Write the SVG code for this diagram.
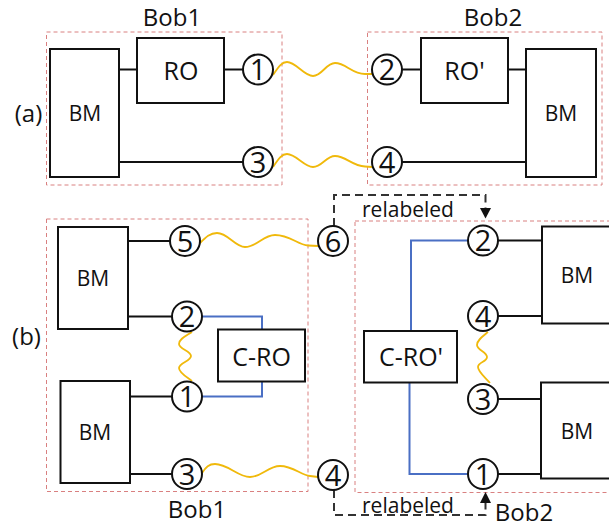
<svg xmlns="http://www.w3.org/2000/svg" width="609" height="527" viewBox="0 0 609 527">
<style>
.box{fill:#fff;stroke:#111;stroke-width:2}
.grp{fill:none;stroke:#d98080;stroke-width:1;stroke-dasharray:4 3}
.port{fill:#fff;stroke:#111;stroke-width:2}
.wire{fill:none;stroke:#111;stroke-width:2}
.blue{fill:none;stroke:#4a6fc4;stroke-width:2}
.wave{fill:none;stroke:#f0b90b;stroke-width:1.8}
.dash{fill:none;stroke:#333;stroke-width:2;stroke-dasharray:8 5}
text{font-family:"Open Sans","Liberation Sans",sans-serif;fill:#111;text-anchor:middle}
.num{font-size:29px}
.bm{font-size:21px}
.ro{font-size:25px}
.lbl{font-size:24px}
.rl{font-size:21px}
</style>
<rect width="609" height="527" fill="#fff"/>
<g id="groups">
<rect class="grp" x="46.5" y="32" width="235.5" height="153"/>
<rect class="grp" x="367.5" y="32" width="234.5" height="153"/>
<rect class="grp" x="46.5" y="219" width="261.5" height="272.5"/>
<rect class="grp" x="355" y="221" width="270" height="271.5"/>
</g>
<g id="connectors">
<line class="wire" x1="119" y1="69.5" x2="137" y2="69.5"/>
<line class="wire" x1="224" y1="69.5" x2="243" y2="69.5"/>
<line class="wire" x1="119" y1="162" x2="243" y2="162"/>
<line class="wire" x1="402" y1="69.5" x2="421" y2="69.5"/>
<line class="wire" x1="508" y1="69.5" x2="526" y2="69.5"/>
<line class="wire" x1="402" y1="162" x2="526" y2="162"/>
<line class="wire" x1="128" y1="241" x2="170" y2="241"/>
<line class="wire" x1="128" y1="316.5" x2="172" y2="316.5"/>
<line class="wire" x1="130" y1="396.5" x2="172" y2="396.5"/>
<line class="wire" x1="130" y1="474" x2="172" y2="474"/>
<line class="wire" x1="498" y1="240.5" x2="542" y2="240.5"/>
<line class="wire" x1="498" y1="316" x2="542" y2="316"/>
<line class="wire" x1="498" y1="399" x2="541" y2="399"/>
<line class="wire" x1="498" y1="474" x2="541" y2="474"/>
<polyline class="blue" points="202,316.5 262,316.5 262,329.5"/>
<polyline class="blue" points="262,381.5 262,396.5 202,396.5"/>
<polyline class="blue" points="411,331 411,240.5 468,240.5"/>
<polyline class="blue" points="409.5,382.5 409.5,474 468,474"/>
<path class="wave" d="M273,75 C279,66 282,62 287,62 C296,62 304,76 313,76 C322,76 326,63 335,63 C346,63 352,74 365,74 L372,74"/>
<path class="wave" d="M273,167 C279,158 282,154 287,154 C296,154 304,167 313,167 C322,167 326,156 335,156 C346,156 352,166 365,166.5 L372,167"/>
<path class="wave" d="M200,243 C206,237 210,233 217,233 C228,233 235,247 245,247 C257,247 263,235 275,235 C290,235 298,245 308,245.5 L318,246"/>
<path class="wave" d="M202,473 C206,467 209,464 215,464 C228,464 238,477 250,477 C262,477 268,466 280,466 C293,466 301,475 310,476 L318,477"/>
<path class="wave" d="M192,332 C186,336 179,339 179,344 S191,351 191,356 S179,363 179,368 S188,378 192,381"/>
<path class="wave" d="M488,332 C483,336 477,340 477,345 S487,352 487,357 S478,362 478,367 S486,378 490,383"/>
<path class="dash" d="M334,226 V195 H485.5 V208"/>
<polygon points="480,208 491,208 485.5,218.5" fill="#111"/>
<path class="dash" d="M334,490 V515 H485.5 V503"/>
<polygon points="480,503 491,503 485.5,492" fill="#111"/>
</g>
<g id="a-BM1"><rect class="box" x="50" y="49" width="69" height="128"/><text class="bm" x="85" y="121">BM</text></g>
<g id="a-RO"><rect class="box" x="137" y="38" width="87" height="65"/><text class="ro" x="181" y="80">RO</text></g>
<g id="a-p1"><circle class="port" cx="258" cy="69.5" r="15"/><text class="num" x="258" y="80">1</text></g>
<g id="a-p3"><circle class="port" cx="258" cy="162" r="15"/><text class="num" x="258" y="172.5">3</text></g>
<g id="a-p2"><circle class="port" cx="387" cy="69.5" r="15"/><text class="num" x="387" y="80">2</text></g>
<g id="a-p4"><circle class="port" cx="387" cy="162" r="15"/><text class="num" x="387" y="172.5">4</text></g>
<g id="a-ROp"><rect class="box" x="421" y="38" width="87" height="65"/><text class="ro" x="464.5" y="80">RO'</text></g>
<g id="a-BM2"><rect class="box" x="526" y="49" width="70" height="128"/><text class="bm" x="561" y="121">BM</text></g>
<g id="b-BM1"><rect class="box" x="58" y="227" width="70" height="102"/><text class="bm" x="93" y="286">BM</text></g>
<g id="b-BM2"><rect class="box" x="60.5" y="381" width="69.5" height="102"/><text class="bm" x="95" y="440">BM</text></g>
<g id="b-CRO"><rect class="box" x="218" y="329.5" width="87" height="52"/><text class="ro" x="261.5" y="366">C-RO</text></g>
<g id="b-p5"><circle class="port" cx="185" cy="241" r="15"/><text class="num" x="185" y="251.5">5</text></g>
<g id="b-p2"><circle class="port" cx="187" cy="316.5" r="15"/><text class="num" x="187" y="327">2</text></g>
<g id="b-p1"><circle class="port" cx="187" cy="396.5" r="15"/><text class="num" x="187" y="407">1</text></g>
<g id="b-p3"><circle class="port" cx="187" cy="474" r="15"/><text class="num" x="187" y="484.5">3</text></g>
<g id="b-p6"><circle class="port" cx="333" cy="241" r="15"/><text class="num" x="333" y="251.5">6</text></g>
<g id="b-p4L"><circle class="port" cx="333" cy="475" r="15"/><text class="num" x="333" y="485.5">4</text></g>
<g id="b-CROp"><rect class="box" x="364" y="331" width="93" height="51.5"/><text class="ro" x="411" y="366">C-RO'</text></g>
<g id="b-q2"><circle class="port" cx="483" cy="240.5" r="15"/><text class="num" x="483" y="251">2</text></g>
<g id="b-q4"><circle class="port" cx="483" cy="316" r="15"/><text class="num" x="483" y="326.5">4</text></g>
<g id="b-q3"><circle class="port" cx="483" cy="399" r="15"/><text class="num" x="483" y="409.5">3</text></g>
<g id="b-q1"><circle class="port" cx="483" cy="474" r="15"/><text class="num" x="483" y="484.5">1</text></g>
<g id="b-BM3"><rect class="box" x="542" y="226.5" width="80" height="97"/><text class="bm" x="577" y="283">BM</text></g>
<g id="b-BM4"><rect class="box" x="541" y="382.5" width="80" height="96"/><text class="bm" x="577" y="438.5">BM</text></g>
<g id="labels">
<text class="lbl" x="172" y="26">Bob1</text>
<text class="lbl" x="493" y="26">Bob2</text>
<text class="lbl" x="28.5" y="122">(a)</text>
<text class="lbl" x="26.5" y="345">(b)</text>
<text class="lbl" x="197" y="518">Bob1</text>
<text class="lbl" x="524" y="521">Bob2</text>
<text class="rl" x="408" y="217">relabeled</text>
<text class="rl" x="408" y="513">relabeled</text>
</g>
</svg>
